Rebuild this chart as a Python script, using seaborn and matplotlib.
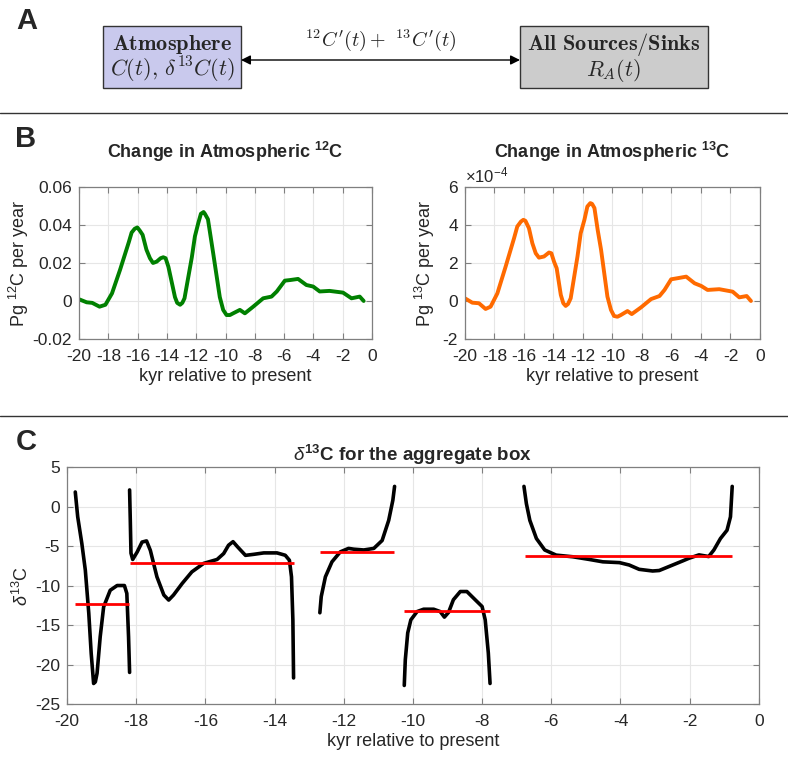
import numpy as np
import matplotlib
matplotlib.use("Agg")
import matplotlib.pyplot as plt
import seaborn as sns
from matplotlib.patches import Rectangle, FancyArrowPatch

# ----------------------------------------------------------------------
# Data
# ----------------------------------------------------------------------
kyr_12c = [-20.0, -19.48, -19.1, -18.6, -18.2, -17.75, -17.2, -16.6, -16.41, -16.2,
           -16.02, -15.85, -15.66, -15.4, -15.16, -14.95, -14.7, -14.43, -14.25, -14.09,
           -13.9, -13.45, -13.3, -13.1, -12.95, -12.8, -12.3, -12.09, -11.86, -11.68,
           -11.5, -11.41, -11.2, -11.02, -10.84, -10.39, -10.16, -9.93, -9.7, -9.48,
           -9.02, -8.68, -8.11, -7.43, -6.86, -6.5, -5.95, -5.6, -5.05, -4.48,
           -4.02, -3.57, -2.9, -1.98, -1.4, -0.84, -0.57]
flux_12c = [0.0009, -0.0007, -0.001, -0.003, -0.002, 0.004, 0.0164, 0.031, 0.036, 0.038,
            0.0387, 0.037, 0.0348, 0.027, 0.0225, 0.020, 0.0207, 0.0225, 0.023, 0.0225,
            0.018, 0.002, -0.001, -0.002, -0.001, 0.0014, 0.023, 0.034, 0.041, 0.0459,
            0.0468, 0.0459, 0.043, 0.034, 0.025, 0.002, -0.0047, -0.0074, -0.0074, -0.0065,
            -0.0047, -0.0065, -0.003, 0.0014, 0.0023, 0.005, 0.0107, 0.011, 0.0116, 0.0084,
            0.0076, 0.005, 0.0053, 0.0044, 0.0014, 0.0023, 0.0]

kyr_13c = [-20.0, -19.5, -19.05, -18.6, -18.26, -17.8, -17.24, -16.67, -16.45, -16.2,
           -16.04, -15.9, -15.66, -15.43, -15.2, -14.98, -14.64, -14.3, -14.14, -13.96,
           -13.78, -13.5, -13.33, -13.17, -13.01, -12.83, -12.37, -12.15, -11.9, -11.7,
           -11.5, -11.38, -11.22, -11.0, -10.77, -10.34, -10.1, -9.89, -9.66, -9.43,
           -8.98, -8.69, -8.05, -7.38, -6.81, -6.47, -6.02, -5.57, -5.0, -4.43,
           -3.98, -3.55, -2.76, -1.85, -1.4, -0.9, -0.61]
# in units of 1e-4 Pg per year
flux_13c_e4 = [0.14, -0.09, -0.12, -0.42, -0.3, 0.4, 1.81, 3.3, 3.92, 4.18,
               4.27, 4.22, 3.83, 3.04, 2.51, 2.28, 2.34, 2.55, 2.51, 2.07,
               1.72, 0.32, -0.12, -0.26, -0.16, 0.14, 2.34, 3.57, 4.27, 4.97,
               5.15, 5.11, 4.89, 3.74, 2.69, 0.23, -0.47, -0.79, -0.83, -0.74,
               -0.53, -0.69, -0.33, 0.1, 0.26, 0.58, 1.14, 1.2, 1.28, 0.93,
               0.79, 0.58, 0.62, 0.49, 0.19, 0.26, 0.0]

# delta13C of the aggregate box, one list per segment
seg1_kyr = [-19.76, -19.69, -19.57, -19.47, -19.37, -19.3, -19.23, -19.18, -19.13, -19.04,
            -18.94, -18.75, -18.55, -18.34, -18.27, -18.22, -18.19]
seg1_d13 = [1.84, -1.3, -4.7, -8.05, -13.5, -18.6, -22.4, -22.2, -21.1, -16.5,
            -12.7, -10.6, -10.0, -10.0, -11.0, -16.5, -21.0]
seg2_kyr = [-18.19, -18.17, -18.15, -18.1, -17.97, -17.83, -17.7, -17.59, -17.4, -17.2,
            -17.06, -16.92, -16.67, -16.39, -16.05, -15.66, -15.47, -15.33, -15.2, -15.07,
            -14.84, -14.6, -14.31, -13.93, -13.69, -13.57, -13.51, -13.47, -13.45]
seg2_d13 = [2.1, -1.7, -5.9, -6.7, -5.75, -4.5, -4.35, -5.55, -8.9, -11.2,
            -11.84, -11.2, -9.74, -8.27, -7.2, -6.7, -5.95, -4.9, -4.45, -5.1,
            -6.18, -6.05, -5.87, -5.87, -6.17, -6.8, -8.9, -14.35, -21.7]
seg3_kyr = [-12.69, -12.65, -12.53, -12.34, -12.1, -11.86, -11.71, -11.42, -11.13, -10.89,
            -10.7, -10.58, -10.53]
seg3_d13 = [-13.45, -11.4, -8.9, -7.0, -5.74, -5.3, -5.4, -5.5, -5.3, -4.3,
            -1.75, 0.8, 2.55]
seg4_kyr = [-10.25, -10.22, -10.15, -10.06, -9.88, -9.69, -9.4, -9.21, -9.09, -8.97,
            -8.83, -8.63, -8.44, -8.2, -8.0, -7.91, -7.82, -7.77]
seg4_d13 = [-22.65, -19.4, -16.0, -14.35, -13.3, -13.0, -13.0, -13.3, -14.0, -13.4,
            -11.8, -10.76, -10.76, -11.8, -12.66, -14.35, -18.55, -22.4]
seg5_kyr = [-6.79, -6.72, -6.62, -6.43, -6.19, -5.86, -5.38, -4.9, -4.51, -4.03,
            -3.75, -3.46, -3.07, -2.88, -2.6, -2.21, -2.02, -1.73, -1.45, -1.3,
            -1.11, -0.92, -0.82, -0.77]
seg5_d13 = [2.55, 0.37, -1.75, -4.05, -5.5, -6.15, -6.36, -6.7, -7.0, -7.1,
            -7.4, -7.95, -8.16, -8.1, -7.6, -6.9, -6.55, -6.12, -6.33, -5.5,
            -4.05, -3.0, -1.3, 2.55]

# segment means (red lines)
mean_level = [-12.4, -7.1, -5.8, -13.2, -6.3]
mean_start = [-19.76, -18.17, -12.69, -10.25, -6.77]
mean_end = [-18.2, -13.45, -10.55, -7.77, -0.77]

# ----------------------------------------------------------------------
# Style
# ----------------------------------------------------------------------
sns.set_style("white")
plt.rcParams['font.family'] = ['Liberation Sans', 'DejaVu Sans']
plt.rcParams['mathtext.fontset'] = 'custom'
plt.rcParams['mathtext.rm'] = 'Liberation Sans'
plt.rcParams['mathtext.it'] = 'Liberation Sans:italic'
plt.rcParams['mathtext.bf'] = 'Liberation Sans:bold'
plt.rcParams['axes.unicode_minus'] = False
plt.rcParams['lines.solid_joinstyle'] = 'round'

AX_COL = '#262626'
GRID_COL = '#e6e6e6'
TICK_FS = 12.5
LABEL_FS = 13
TITLE_FS = 13


def matlab_axes(ax):
    for s in ax.spines.values():
        s.set_color('#7f7f7f')
        s.set_linewidth(0.9)
    ax.tick_params(direction='in', length=4, width=0.8, colors='#7f7f7f',
                   labelcolor=AX_COL, labelsize=TICK_FS, top=True, right=True,
                   bottom=True, left=True)
    ax.tick_params(axis='x', pad=7)
    ax.tick_params(axis='y', pad=5)
    ax.grid(True, color=GRID_COL, linewidth=0.8)
    ax.set_axisbelow(True)


fig = plt.figure(figsize=(7.88, 7.78), dpi=100)

# overlay for panel A, separators and letters (pixel coords)
ov = fig.add_axes([0, 0, 1, 1], zorder=-1)
ov.set_xlim(0, 788)
ov.set_ylim(778, 0)
ov.axis('off')

ov.plot([0, 788], [113, 113], color='#333333', lw=1.0)
ov.plot([0, 788], [416, 416], color='#333333', lw=1.0)

for letter, (lx, ly) in zip("ABC", [(27, 21), (26, 139), (26, 442)]):
    ov.text(lx, ly, letter, fontsize=21, fontweight='bold', ha='center', va='center')

ov.add_patch(Rectangle((103, 26), 138, 62, facecolor='#c9c9ed', edgecolor='#333333', lw=1.0))
ov.add_patch(Rectangle((520, 26), 188, 62, facecolor='#cccccc', edgecolor='#333333', lw=1.0))
ov.text(172, 44, r"$\mathbf{Atmosphere}$", math_fontfamily='cm', fontsize=16,
        ha='center', va='center')
ov.text(172, 70, r"$C(t),\,\delta^{13}C(t)$", math_fontfamily='cm', fontsize=16,
        ha='center', va='center')
ov.text(614, 44, r"$\mathbf{All\ Sources/Sinks}$", math_fontfamily='cm', fontsize=16,
        ha='center', va='center')
ov.text(614, 70, r"$R_A(t)$", math_fontfamily='cm', fontsize=16,
        ha='center', va='center')
ov.add_patch(FancyArrowPatch((241, 60), (520, 60), arrowstyle='<|-|>',
                             mutation_scale=14, color='black', lw=1.0,
                             shrinkA=0, shrinkB=0))
ov.text(381, 40, r"$^{12}C'(t)+\ ^{13}C'(t)$", math_fontfamily='cm', fontsize=14.5,
        ha='center', va='center')

# ----------------------------------------------------------------------
# Panel B
# ----------------------------------------------------------------------
xt = list(range(-20, 1, 2))

ax1 = fig.add_axes([0.1003, 0.5643, 0.3718, 0.1954])
sns.lineplot(x=kyr_12c, y=flux_12c, ax=ax1, color='#008000', lw=2.8, sort=False)
ax1.set_xlim(-20, 0)
ax1.set_ylim(-0.02, 0.06)
ax1.set_xticks(xt)
ax1.set_yticks([-0.02, 0, 0.02, 0.04, 0.06])
ax1.set_yticklabels(['-0.02', '0', '0.02', '0.04', '0.06'])
matlab_axes(ax1)
ax1.set_title(r"Change in Atmospheric $^{\mathbf{12}}$C", fontsize=TITLE_FS,
              fontweight='bold', pad=21)
ax1.set_xlabel("kyr relative to present", fontsize=LABEL_FS, color=AX_COL, labelpad=3)
ax1.set_ylabel(r"Pg $^{12}$C per year", fontsize=LABEL_FS, color=AX_COL, labelpad=1)

ax2 = fig.add_axes([0.590, 0.5643, 0.3744, 0.1954])
sns.lineplot(x=kyr_13c, y=[v * 1e-4 for v in flux_13c_e4], ax=ax2,
             color='#ff6a00', lw=2.8, sort=False)
ax2.set_xlim(-20, 0)
ax2.set_ylim(-2e-4, 6e-4)
ax2.set_xticks(xt)
ax2.set_yticks([-2e-4, 0, 2e-4, 4e-4, 6e-4])
ax2.set_yticklabels(['-2', '0', '2', '4', '6'])
matlab_axes(ax2)
ax2.text(0.0, 1.01, r"$\times10^{\mathrm{-4}}$", transform=ax2.transAxes,
         fontsize=12, color=AX_COL, ha='left', va='bottom')
ax2.set_title(r"Change in Atmospheric $^{\mathbf{13}}$C", fontsize=TITLE_FS,
              fontweight='bold', pad=21)
ax2.set_xlabel("kyr relative to present", fontsize=LABEL_FS, color=AX_COL, labelpad=3)
ax2.set_ylabel(r"Pg $^{13}$C per year", fontsize=LABEL_FS, color=AX_COL, labelpad=4)

# ----------------------------------------------------------------------
# Panel C
# ----------------------------------------------------------------------
ax3 = fig.add_axes([0.085, 0.0951, 0.878, 0.3046])
segments = [(seg1_kyr, seg1_d13), (seg2_kyr, seg2_d13), (seg3_kyr, seg3_d13),
            (seg4_kyr, seg4_d13), (seg5_kyr, seg5_d13)]
for sx, sy in segments:
    sns.lineplot(x=sx, y=sy, ax=ax3, color='black', lw=2.6, sort=False)
ax3.hlines(mean_level, mean_start, mean_end, colors='#ff0000', lw=2.0, zorder=3)
ax3.set_xlim(-20, 0)
ax3.set_ylim(-25, 5)
ax3.set_xticks(list(range(-20, 1, 2)))
ax3.set_yticks(list(range(-25, 6, 5)))
matlab_axes(ax3)
ax3.set_title(r"$\delta^{\mathbf{13}}\mathbf{C}$ for the aggregate box", fontsize=13.5,
              fontweight='bold', pad=4)
ax3.set_xlabel("kyr relative to present", fontsize=LABEL_FS, color=AX_COL, labelpad=3)
ax3.set_ylabel(r"$\delta^{13}$C", fontsize=LABEL_FS, color=AX_COL, labelpad=2)

fig.savefig("out.png", dpi=100)
